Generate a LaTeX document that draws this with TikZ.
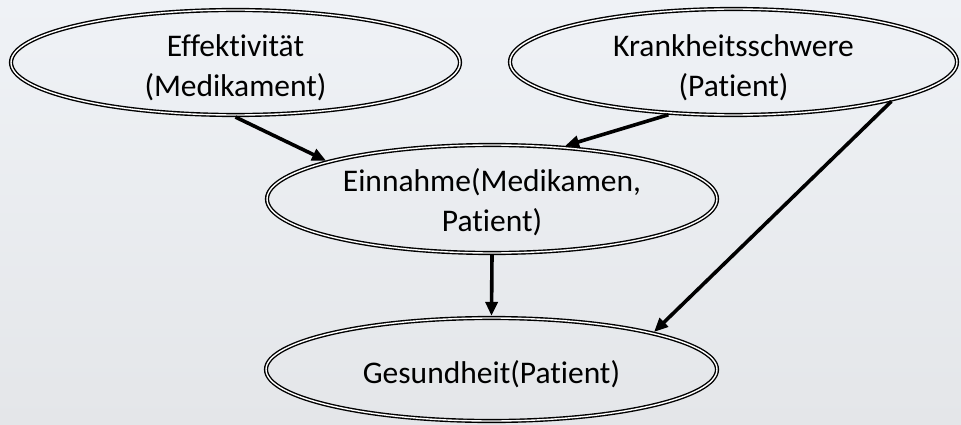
\documentclass[tikz,border=0pt]{standalone}
\usepackage{fontspec}
\setmainfont[Ligatures=CommonOff]{Carlito}
\usetikzlibrary{shapes.geometric,arrows.meta}

\tikzset{
  oval/.style={ellipse, draw=black, double=white, line width=1.4pt,
    double distance=1.4pt, outer sep=2.1pt, inner sep=0pt},
  lbl/.style={align=center, inner sep=0pt, font=\fontsize{31.5}{40}\selectfont},
  link/.style={-{Triangle[length=14pt,width=12pt]}, line width=3.6pt, black},
}

\begin{document}
\begin{tikzpicture}[x=1pt, y=-1pt]
  % light grey page with a soft vertical gradient
  \shade[top color={rgb,255:red,239;green,242;blue,246},
         bottom color={rgb,255:red,228;green,230;blue,233}]
    (0,0) rectangle (961,425);
  \useasboundingbox (0,0) rectangle (961,425);

  % variables
  \node[oval, minimum width=449pt, minimum height=105pt] (e1) at (235.5,62.5) {};
  \node[oval, minimum width=447pt, minimum height=106pt] (e2) at (733.5,62) {};
  \node[oval, minimum width=450pt, minimum height=108pt] (e3) at (492,199) {};
  \node[oval, minimum width=451pt, minimum height=103pt] (e4) at (491.5,369.5) {};

  % labels
  \node[lbl, yshift=-5.5pt] (t1) at (e1) {Effektivität\\(Medikament)};
  \node[lbl, yshift=-6pt] (t2) at (e2) {Krankheitsschwere\\(Patient)};
  \node[lbl, yshift=-3.5pt] (t3) at (e3) {Einnahme(Medikamen,\\Patient)};
  \node[lbl, yshift=-5pt] (t4) at (e4) {Gesundheit(Patient)};

  % dependencies
  \draw[link] (e1.south) -- (e3.167);
  \draw[link] (e2.-141) -- (e3.36);
  \draw[link] (e3.south) -- (e4.north);
  \draw[link] (e2.-14) -- (e4.13);
\end{tikzpicture}
\end{document}
